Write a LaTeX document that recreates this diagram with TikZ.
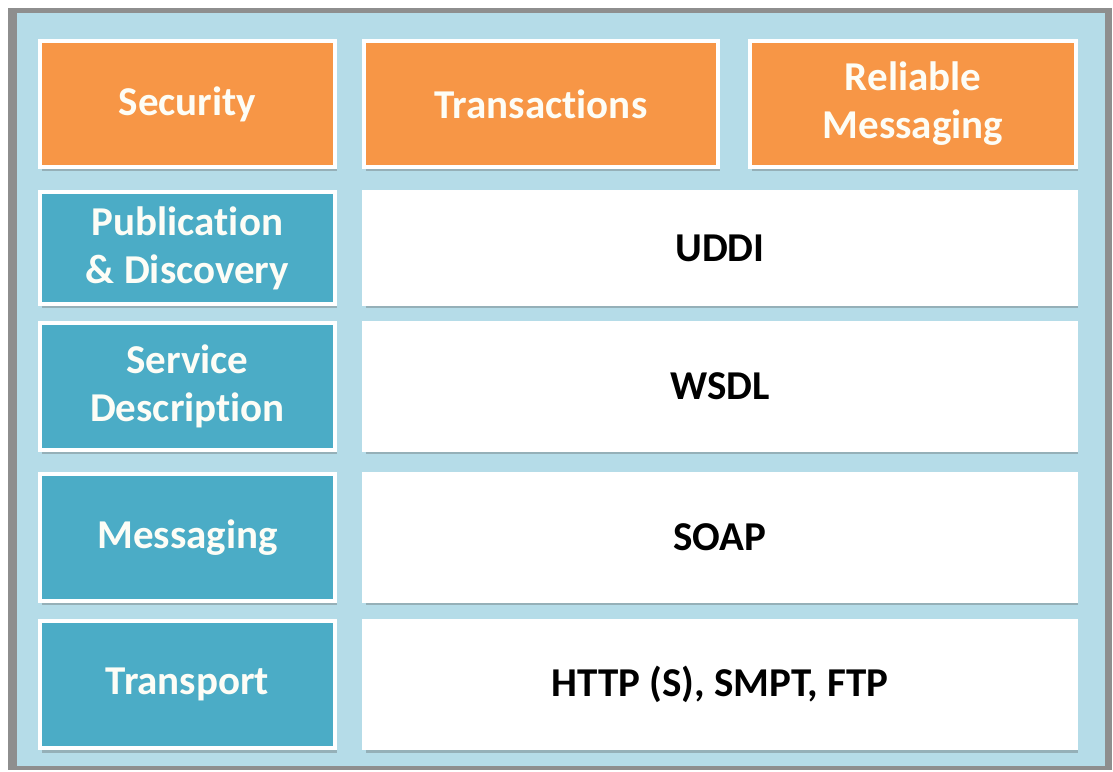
\documentclass[tikz,border=0pt]{standalone}
\usepackage{fontspec}
\setmainfont[Ligatures=NoCommon]{Carlito}
\usetikzlibrary{shadows}
\definecolor{frameblue}{HTML}{B5DCE8}
\definecolor{framegray}{HTML}{8E8E8E}
\definecolor{orangebox}{HTML}{F79646}
\definecolor{bluebox}{HTML}{4BACC6}
\definecolor{softwhite}{HTML}{FDFDF6}
\begin{document}
\begin{tikzpicture}[x=1pt,y=1pt,
  box/.style={draw=white, line width=4pt, inner sep=0pt, align=center,
    font=\fontsize{41}{48}\selectfont\bfseries,
    drop shadow={shadow xshift=1.5pt, shadow yshift=-4.5pt, fill=black!70, opacity=0.3}},
  orangecell/.style={box, fill=orangebox, text=softwhite},
  bluecell/.style={box, fill=bluebox, text=softwhite},
  whitecell/.style={box, fill=white, text=black},
  leftcol/.style={minimum width=295pt},
  rowA/.style={minimum height=126pt},
  rowB/.style={minimum height=112pt},
  rowC/.style={minimum height=127pt}]
\useasboundingbox (0,0) rectangle (1113,771);
\fill[white] (0,0) rectangle (1113,771);
\fill[framegray] (8,1) rectangle (1112,763);
\fill[frameblue] (17,5) rectangle (1105,758);
% top row
\node[orangecell, leftcol, rowA] (sec) at (187.5,667) {Security};
\node[orangecell, minimum width=354pt, rowA] (tra) at (541,667) {Transactions};
\node[orangecell, minimum width=326pt, rowA] (rel) at (913,667) {Reliable\\Messaging};
% left column
\node[bluecell, leftcol, rowB] (pub) at (187.5,523) {Publication\\\& Discovery};
\node[bluecell, leftcol, rowC] (ser) at (187.5,384.5) {Service\\Description};
\node[bluecell, leftcol, rowC] (msg) at (187.5,233.5) {Messaging};
\node[bluecell, leftcol, rowC] (trn) at (187.5,86.5) {Transport};
% right column
\node[whitecell, minimum width=712pt, rowB] (uddi) at (720,523) {UDDI};
\node[whitecell, minimum width=712pt, rowC] (wsdl) at (720,384.5) {WSDL};
\node[whitecell, minimum width=712pt, rowC] (soap) at (720,233.5) {SOAP};
\node[whitecell, minimum width=712pt, rowC] (http) at (720,86.5) {HTTP (S), SMPT, FTP};
\end{tikzpicture}
\end{document}
